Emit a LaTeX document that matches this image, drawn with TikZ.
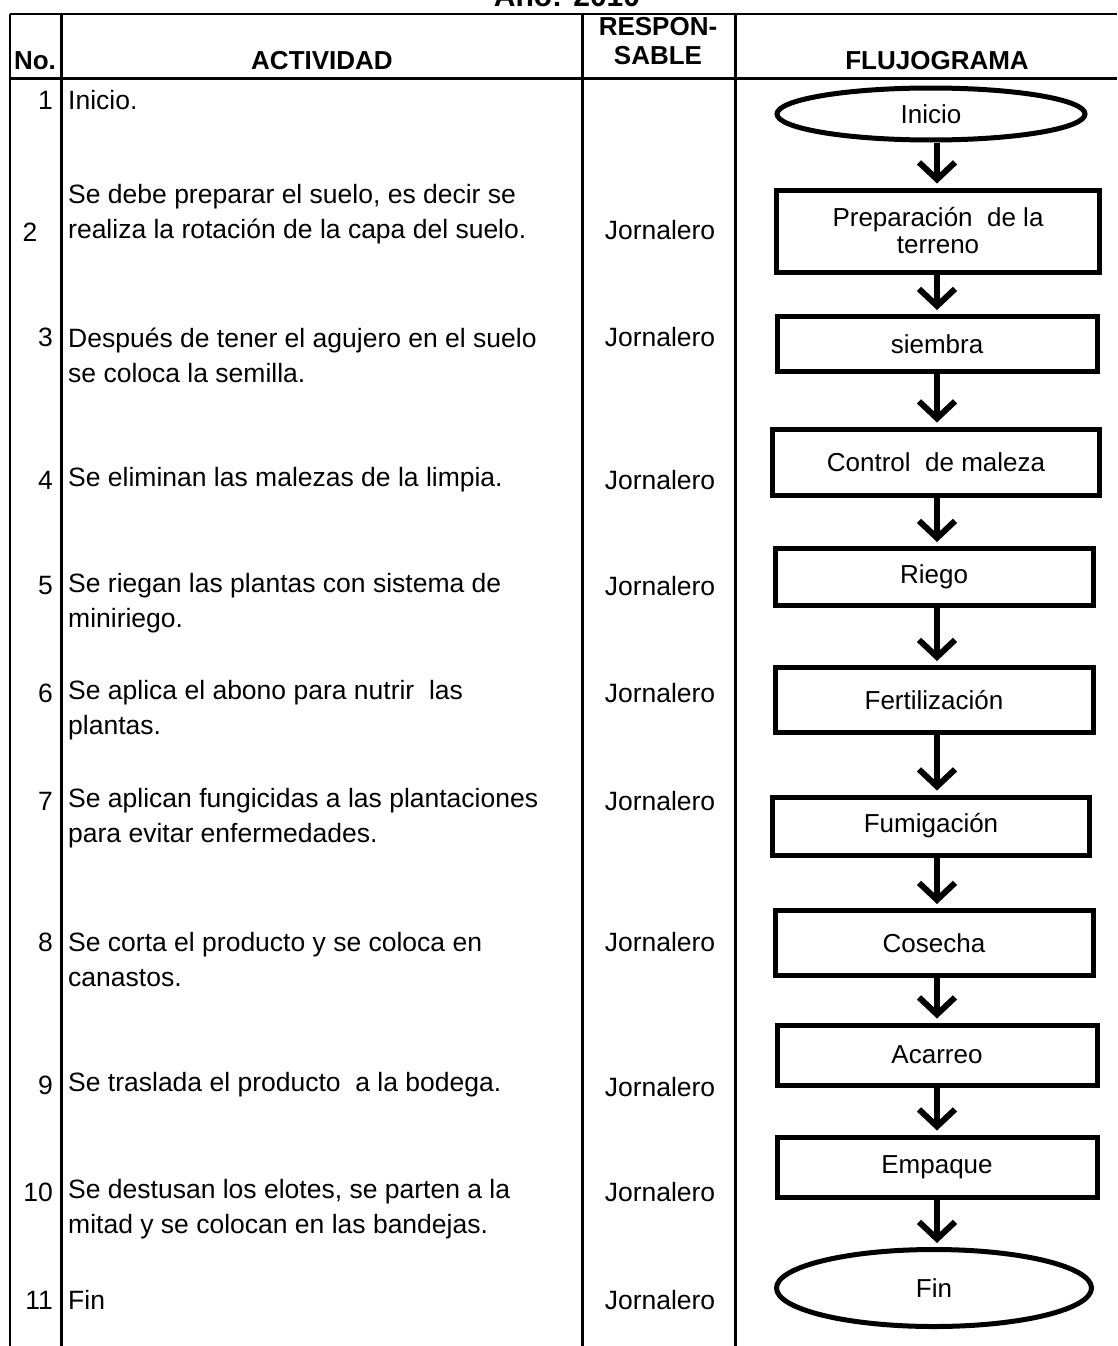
\documentclass[tikz,border=0pt]{standalone}
\usepackage{fontspec}
\setmainfont{Liberation Sans}
\usetikzlibrary{arrows.meta,shapes.geometric}
\begin{document}
\begin{tikzpicture}[x=1pt,y=-1pt,
  hdr/.style={font=\fontsize{26}{28}\selectfont\bfseries, inner sep=0pt, align=center},
  txt/.style={font=\fontsize{26.5}{35}\selectfont, inner sep=0pt, align=left, anchor=west},
  num/.style={font=\fontsize{26.5}{35}\selectfont, inner sep=0pt, anchor=east},
  resp/.style={font=\fontsize{26.5}{35}\selectfont, inner sep=0pt},
  proc/.style={draw, line width=5pt, rectangle, inner sep=0pt, font=\fontsize{26}{27}\selectfont, align=center},
  term/.style={draw, ellipse, line width=5pt, inner sep=0pt, font=\fontsize{26}{27}\selectfont},
  flow/.style={line width=5.5pt, -{Straight Barb[length=17pt,width=36pt,line width=6pt]}, shorten >=4pt},
  rulethin/.style={line width=2pt},
  rulethick/.style={line width=3pt}]
\useasboundingbox (0,0) rectangle (1117,1346);
\clip (0,0) rectangle (1117,1346);
\fill[white] (0,0) rectangle (1117,1346);

% title (cut off at top, as in the reference)
\node[font=\fontsize{30}{30}\selectfont\bfseries, anchor=base, inner sep=0pt] (title) at (567,7) {Año: 2010};

% table rules
\draw[rulethin] (10,14) -- (1117,14);
\draw[rulethick] (10,78) -- (1117,78);
\draw[rulethin] (10,14) -- (10,1346);
\draw[rulethick] (61,14) -- (61,1346);
\draw[rulethick] (582,14) -- (582,1346);
\draw[rulethick] (735,14) -- (735,1346);

% header
\node[hdr] (hno) at (35,61) {No.};
\node[hdr] (hact) at (322,61) {ACTIVIDAD};
\node[hdr] (hresp1) at (658,27) {RESPON-};
\node[hdr] (hresp2) at (658,56) {SABLE};
\node[hdr] (hflu) at (937,61) {FLUJOGRAMA};

% numbers
\node[num] (n1) at (53,100) {1};
\node[resp] (n2) at (30,232) {2};
\node[num] (n3) at (53,337) {3};
\node[num] (n4) at (53,480) {4};
\node[num] (n5) at (53,586) {5};
\node[num] (n6) at (53,693) {6};
\node[num] (n7) at (53,801) {7};
\node[num] (n8) at (53,942) {8};
\node[num] (n9) at (53,1085) {9};
\node[num] (n10) at (53,1192) {10};
\node[num] (n11) at (53,1300) {11};

% activities
\node[txt] (a1) at (68,100) {Inicio.};
\node[txt] (a2) at (68,214) {Se debe preparar el suelo, es decir se\\realiza la rotación de la capa del suelo.};
\node[txt] (a3) at (68,355) {Después de tener el agujero en el suelo\\se coloca la semilla.};
\node[txt] (a4) at (68,480) {Se eliminan las malezas de la limpia.};
\node[txt] (a5) at (68,603) {Se riegan las plantas con sistema de\\miniriego.};
\node[txt] (a6) at (68,710) {Se aplica el abono para nutrir\ \ las\\plantas.};
\node[txt] (a7) at (68,818) {Se aplican fungicidas a las plantaciones\\para evitar enfermedades.};
\node[txt] (a8) at (68,960) {Se corta el producto y se coloca en\\canastos.};
\node[txt] (a9) at (68,1085) {Se traslada el producto\ \ a la bodega.};
\node[txt] (a10) at (68,1209) {Se destusan los elotes, se parten a la\\mitad y se colocan en las bandejas.};
\node[txt] (a11) at (68,1300) {Fin};

% responsable
\node[resp] (r2) at (660,230) {Jornalero};
\node[resp] (r3) at (660,337) {Jornalero};
\node[resp] (r4) at (660,480) {Jornalero};
\node[resp] (r5) at (660,586) {Jornalero};
\node[resp] (r6) at (660,693) {Jornalero};
\node[resp] (r7) at (660,801) {Jornalero};
\node[resp] (r8) at (660,942) {Jornalero};
\node[resp] (r9) at (660,1087) {Jornalero};
\node[resp] (r10) at (660,1192) {Jornalero};
\node[resp] (r11) at (660,1300) {Jornalero};

% flowchart
\node[term, minimum width=308pt, minimum height=52pt] (inicio) at (931,114) {Inicio};
\node[proc, minimum width=323pt, minimum height=82pt] (prep) at (938,231) {Preparación\ \ de la\\terreno};
\node[proc, minimum width=320pt, minimum height=55pt] (siembra) at (937,344) {siembra};
\node[proc, minimum width=327pt, minimum height=66pt] (control) at (936,462) {Control\ \ de maleza};
\node[proc, minimum width=318pt, minimum height=57pt] (riego) at (934,577) {Riego};
\node[proc, minimum width=318pt, minimum height=65pt] (fert) at (934,700) {Fertilización};
\node[proc, minimum width=317pt, minimum height=58pt] (fumig) at (931,826) {Fumigación};
\node[proc, minimum width=318pt, minimum height=65pt] (cosecha) at (934,943) {Cosecha};
\node[proc, minimum width=320pt, minimum height=60pt] (acarreo) at (937,1055) {Acarreo};
\node[proc, minimum width=320pt, minimum height=60pt] (empaque) at (937,1167) {Empaque};
\node[term, minimum width=315pt, minimum height=77pt] (fin) at (934,1288) {Fin};

\coordinate (ax) at (937,0);
\draw[flow] (inicio.south -| ax) -- (prep.north -| ax);
\draw[flow] (prep.south -| ax) -- (siembra.north -| ax);
\draw[flow] (siembra.south -| ax) -- (control.north -| ax);
\draw[flow] (control.south -| ax) -- (riego.north -| ax);
\draw[flow] (riego.south -| ax) -- (fert.north -| ax);
\draw[flow] (fert.south -| ax) -- (fumig.north -| ax);
\draw[flow] (fumig.south -| ax) -- (cosecha.north -| ax);
\draw[flow] (cosecha.south -| ax) -- (acarreo.north -| ax);
\draw[flow] (acarreo.south -| ax) -- (empaque.north -| ax);
\draw[flow] (empaque.south -| ax) -- (fin.north -| ax);
\end{tikzpicture}
\end{document}
